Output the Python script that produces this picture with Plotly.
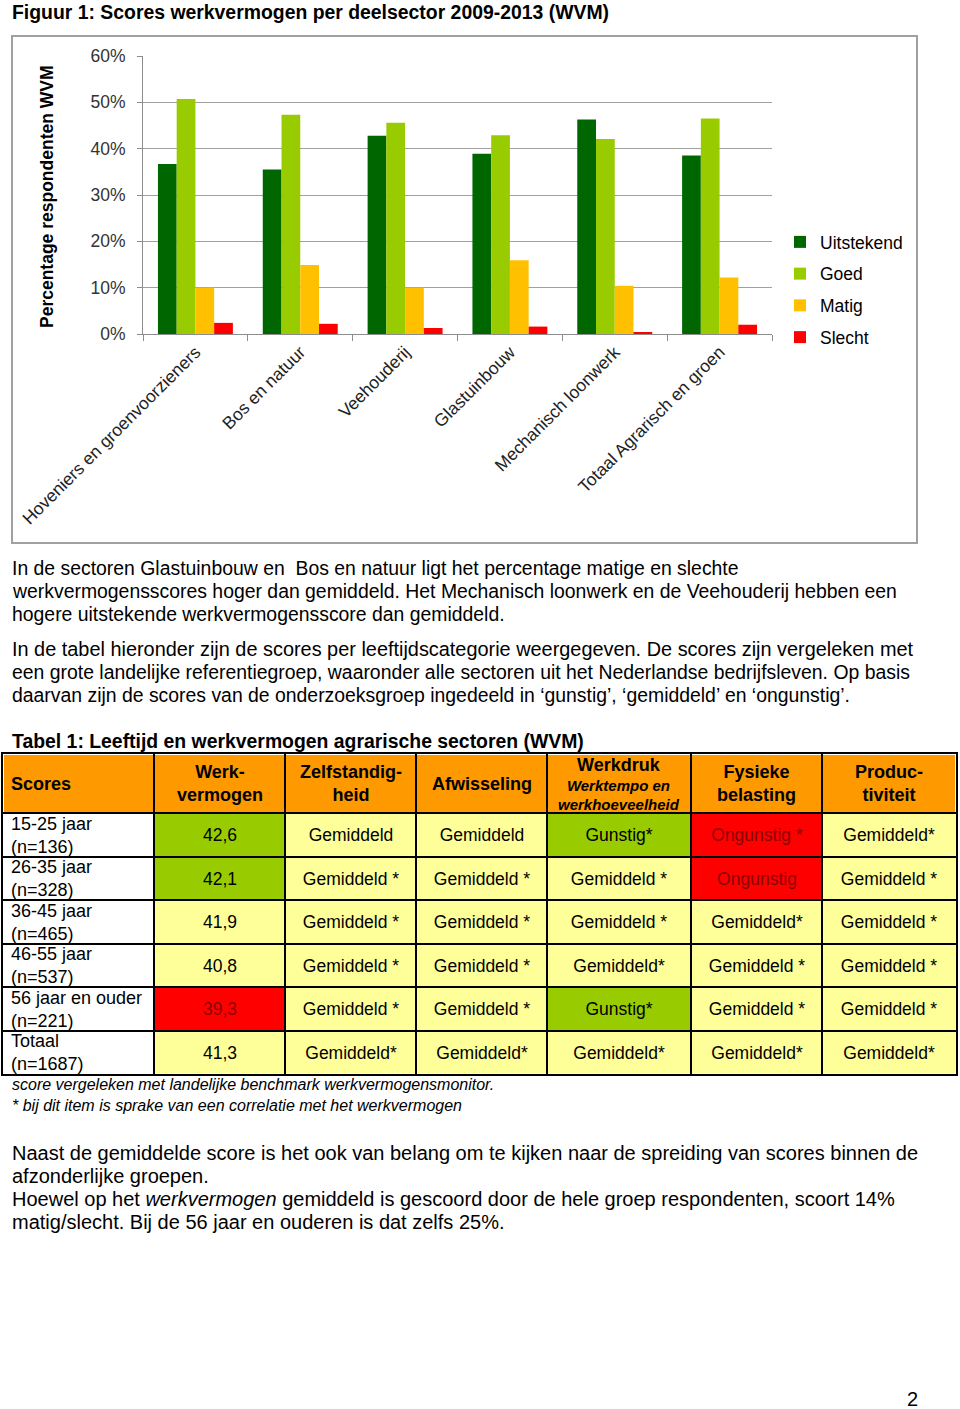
import plotly.graph_objects as go

W, H = 960, 1409
FONT = "Liberation Sans, Arial, sans-serif"

# ---------------- chart data ----------------
categories = ["Hoveniers en groenvoorzieners", "Bos en natuur", "Veehouderij",
              "Glastuinbouw", "Mechanisch loonwerk", "Totaal Agrarisch en groen"]
uitstekend = [0.367, 0.355, 0.428, 0.389, 0.463, 0.385]
goed = [0.507, 0.473, 0.456, 0.429, 0.421, 0.465]
matig = [0.100, 0.149, 0.100, 0.159, 0.104, 0.122]
slecht = [0.024, 0.022, 0.013, 0.016, 0.004, 0.020]
series_names = ["Uitstekend", "Goed", "Matig", "Slecht"]
series_colors = ["#006600", "#99CC00", "#FFC000", "#FF0000"]

# ---------------- table data ----------------
table_headers = ["<b>Scores</b>", "<b>Werk-<br>vermogen</b>", "<b>Zelfstandig-<br>heid</b>",
                 "<b>Afwisseling</b>",
                 "<span style='font-size:18px'><b>Werkdruk</b></span><br><b><i>Werktempo en</i></b><br>"
                 "<b><i>werkhoeveelheid</i></b>",
                 "<b>Fysieke<br>belasting</b>", "<b>Produc-<br>tiviteit</b>"]
age_groups = ["15-25 jaar<br>(n=136)", "26-35 jaar<br>(n=328)", "36-45 jaar<br>(n=465)",
              "46-55 jaar<br>(n=537)", "56 jaar en ouder<br>(n=221)", "Totaal<br>(n=1687)"]
werkvermogen = ["42,6", "42,1", "41,9", "40,8", "39,3", "41,3"]
werkvermogen_rating = ["Gunstig", "Gunstig", "Gemiddeld", "Gemiddeld", "Ongunstig", "Gemiddeld"]
zelfstandigheid = ["Gemiddeld", "Gemiddeld *", "Gemiddeld *", "Gemiddeld *", "Gemiddeld *", "Gemiddeld*"]
afwisseling = ["Gemiddeld", "Gemiddeld *", "Gemiddeld *", "Gemiddeld *", "Gemiddeld *", "Gemiddeld*"]
werkdruk = ["Gunstig*", "Gemiddeld *", "Gemiddeld *", "Gemiddeld*", "Gunstig*", "Gemiddeld*"]
fysieke_belasting = ["Ongunstig *", "Ongunstig", "Gemiddeld*", "Gemiddeld *", "Gemiddeld *", "Gemiddeld*"]
productiviteit = ["Gemiddeld*", "Gemiddeld *", "Gemiddeld *", "Gemiddeld *", "Gemiddeld *", "Gemiddeld*"]

# layout constants (pixels)
col_edges = [0, 151, 282, 413, 544, 688, 819, 953]
row_edges = [0, 59, 103, 146, 190, 233, 277, 320]
TBL_LEFT, TBL_TOP = 3, 754

def px(x):
    return x / W

def py(y):
    return 1 - y / H

fig = go.Figure()

# ---------------- bar chart ----------------
for name, vals, col in zip(series_names, [uitstekend, goed, matig, slecht], series_colors):
    fig.add_trace(go.Bar(x=categories, y=vals, name=name, marker_color=col,
                         marker_line_width=0, legendgroup=name,
                         xaxis="x", yaxis="y", hoverinfo="skip"))

# ---------------- table as heatmap ----------------
CODE = {"white": 0, "header": 1, "Gemiddeld": 2, "Gunstig": 3, "Ongunstig": 4}

def rating(s):
    if s.startswith("Ongunstig"):
        return "Ongunstig"
    if s.startswith("Gunstig"):
        return "Gunstig"
    return "Gemiddeld"

def cell_text(s, r):
    if r == "Ongunstig":
        return "<span style='color:#8B0000'>" + s + "</span>"
    return s

columns = [
    (werkvermogen, werkvermogen_rating),
    (zelfstandigheid, [rating(s) for s in zelfstandigheid]),
    (afwisseling, [rating(s) for s in afwisseling]),
    (werkdruk, [rating(s) for s in werkdruk]),
    (fysieke_belasting, [rating(s) for s in fysieke_belasting]),
    (productiviteit, [rating(s) for s in productiviteit]),
]

z = [[CODE["header"]] * 7]
txt = [[""] * 7]
for i in range(len(age_groups)):
    zrow = [CODE["white"]]
    trow = [""]
    for vals, rats in columns:
        zrow.append(CODE[rats[i]])
        trow.append(cell_text(vals[i], rats[i]))
    z.append(zrow)
    txt.append(trow)

colorscale = [[0, "#FFFFFF"], [0.125, "#FFFFFF"], [0.125, "#FF9900"], [0.375, "#FF9900"],
              [0.375, "#FFFF99"], [0.625, "#FFFF99"], [0.625, "#99CC00"], [0.875, "#99CC00"],
              [0.875, "#FF0000"], [1, "#FF0000"]]

fig.add_trace(go.Heatmap(x=col_edges, y=row_edges, z=z, text=txt, texttemplate="%{text}",
                         textfont=dict(family=FONT, size=17.5, color="black"),
                         colorscale=colorscale, zmin=0, zmax=4, showscale=False,
                         xgap=2, ygap=2, hoverinfo="skip", xaxis="x2", yaxis="y2"))

annotations = []
row_centers = [(row_edges[i] + row_edges[i + 1]) / 2 for i in range(len(row_edges) - 1)]
col_centers = [(col_edges[i] + col_edges[i + 1]) / 2 for i in range(len(col_edges) - 1)]
# header row
annotations.append(dict(x=6, y=row_centers[0], xref="x2", yref="y2", text=table_headers[0],
                        showarrow=False, xanchor="left", yanchor="middle", align="left",
                        font=dict(family=FONT, size=18, color="black")))
for j in range(1, 7):
    size = 15 if j == 4 else 18
    annotations.append(dict(x=col_centers[j], y=row_centers[0], xref="x2", yref="y2",
                            text=table_headers[j], showarrow=False, xanchor="center",
                            yanchor="middle", align="center",
                            font=dict(family=FONT, size=size, color="black")))
# first column
for i, g in enumerate(age_groups):
    annotations.append(dict(x=6, y=row_centers[i + 1], xref="x2", yref="y2", text=g,
                            showarrow=False, xanchor="left", yanchor="middle", align="left",
                            font=dict(family=FONT, size=18, color="black")))

# ---------------- page text ----------------
def txt_line(x, y, s, size=20, bold=False, italic=False, xanchor="left"):
    if bold:
        s = "<b>" + s + "</b>"
    if italic:
        s = "<i>" + s + "</i>"
    annotations.append(dict(x=px(x), y=py(y), xref="paper", yref="paper", text=s,
                            showarrow=False, xanchor=xanchor, yanchor="middle", align="left",
                            font=dict(family=FONT, size=size, color="black")))

P1 = 19.4
txt_line(10, 12, "Figuur 1: Scores werkvermogen per deelsector 2009-2013 (WVM)", size=19.4, bold=True)
txt_line(10, 568, "In de sectoren Glastuinbouw en  Bos en natuur ligt het percentage matige en slechte", size=P1)
txt_line(10, 591, "werkvermogensscores hoger dan gemiddeld. Het Mechanisch loonwerk en de Veehouderij hebben een", size=P1)
txt_line(10, 614, "hogere uitstekende werkvermogensscore dan gemiddeld.", size=P1)
txt_line(10, 649, "In de tabel hieronder zijn de scores per leeftijdscategorie weergegeven. De scores zijn vergeleken met", size=19.9)
txt_line(10, 672, "een grote landelijke referentiegroep, waaronder alle sectoren uit het Nederlandse bedrijfsleven. Op basis", size=P1)
txt_line(10, 695, "daarvan zijn de scores van de onderzoeksgroep ingedeeld in ‘gunstig’, ‘gemiddeld’ en ‘ongunstig’.", size=P1)
txt_line(10, 741, "Tabel 1: Leeftijd en werkvermogen agrarische sectoren (WVM)", size=19.4, bold=True)
txt_line(10, 1084, "score vergeleken met landelijke benchmark werkvermogensmonitor.", size=16, italic=True)
txt_line(10, 1105, "* bij dit item is sprake van een correlatie met het werkvermogen", size=16, italic=True)
txt_line(10, 1153, "Naast de gemiddelde score is het ook van belang om te kijken naar de spreiding van scores binnen de")
txt_line(10, 1176, "afzonderlijke groepen.")
txt_line(10, 1199, "Hoewel op het <i>werkvermogen</i> gemiddeld is gescoord door de hele groep respondenten, scoort 14%")
txt_line(10, 1222, "matig/slecht. Bij de 56 jaar en ouderen is dat zelfs 25%.")
txt_line(912, 1399, "2", size=20, xanchor="center")

# y axis title of chart
annotations.append(dict(x=px(47), y=py(197), xref="paper", yref="paper",
                        text="<b>Percentage respondenten WVM</b>", textangle=-90,
                        showarrow=False, xanchor="center", yanchor="middle",
                        font=dict(family=FONT, size=17.5, color="black")))

shapes = [dict(type="rect", xref="paper", yref="paper", x0=px(12), x1=px(917),
               y0=py(543), y1=py(36), line=dict(color="#A0A0A0", width=2), fillcolor="rgba(0,0,0,0)",
               layer="below")]

axis_gray = "#8C8C8C"
fig.update_layout(
    width=W, height=H, margin=dict(l=0, r=0, t=0, b=0),
    paper_bgcolor="white", plot_bgcolor="white",
    font=dict(family=FONT, size=17, color="black"),
    barmode="group", bargap=0.285, bargroupgap=0,
    showlegend=True,
    legend=dict(x=px(780), y=py(224), xanchor="left", yanchor="top",
                font=dict(family=FONT, size=17.5, color="black"),
                traceorder="grouped", tracegroupgap=6, bgcolor="rgba(0,0,0,0)"),
    xaxis=dict(domain=[px(143), px(772)], anchor="y", type="category",
               tickangle=-45, tickfont=dict(family=FONT, size=17.5, color="#222"),
               ticks="outside", tickson="boundaries", ticklen=6, tickcolor=axis_gray,
               showline=True, linecolor=axis_gray, linewidth=1, showgrid=False,
               automargin=False),
    yaxis=dict(domain=[py(334), py(56)], anchor="x", range=[0, 0.6], dtick=0.1,
               tickformat=".0%", tickfont=dict(family=FONT, size=17.5, color="#333"),
               ticks="outside", ticklen=5, tickcolor=axis_gray, ticklabelstandoff=8,
               showline=True, linecolor=axis_gray, linewidth=1,
               showgrid=True, gridcolor="#A0A0A0", gridwidth=1, zeroline=False,
               automargin=False),
    xaxis2=dict(domain=[px(TBL_LEFT), px(TBL_LEFT + col_edges[-1])], anchor="y2",
                range=[col_edges[0], col_edges[-1]], tickvals=col_edges,
                showticklabels=False, ticks="", showgrid=True, gridcolor="black", gridwidth=2,
                zeroline=False, showline=True, mirror=True, linecolor="black", linewidth=2,
                automargin=False, fixedrange=True),
    yaxis2=dict(domain=[py(TBL_TOP + row_edges[-1]), py(TBL_TOP)], anchor="x2",
                range=[row_edges[-1], row_edges[0]], tickvals=row_edges,
                showticklabels=False, ticks="", showgrid=True, gridcolor="black", gridwidth=2,
                zeroline=False, showline=True, mirror=True, linecolor="black", linewidth=2,
                automargin=False, fixedrange=True),
    annotations=annotations,
    shapes=shapes,
)

fig.write_html("out.html")
